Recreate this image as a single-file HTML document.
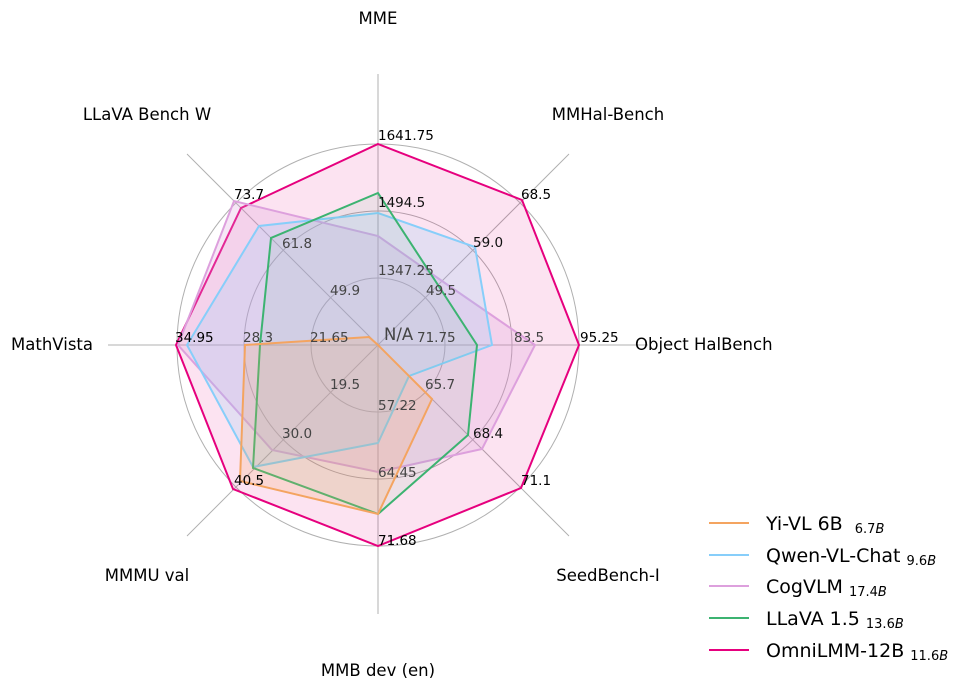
<!DOCTYPE html>
<html><head><style>
body{margin:0;background:#fff;}
svg text{font-family:"DejaVu Sans","Liberation Sans",sans-serif;}
</style></head><body>
<svg width="971" height="690" viewBox="0 0 971 690" xmlns="http://www.w3.org/2000/svg">
<g fill="none" stroke="#b0b0b0" stroke-width="1">
<circle cx="378" cy="345" r="67"/>
<circle cx="378" cy="345" r="134"/>
<circle cx="378" cy="345" r="201"/>
<line x1="378" y1="74" x2="378" y2="614"/>
<line x1="108" y1="345" x2="648" y2="345"/>
<line x1="187" y1="154" x2="569" y2="536"/>
<line x1="569" y1="154" x2="187" y2="536"/>
</g>
<polygon points="378,144 522,200 579,345 521,488 378,546 233,489 176,345 241,208" fill="#e6007e" fill-opacity="0.11" stroke="#e6007e" stroke-width="2"/>
<polygon points="378,236 442,281 535,345 482,449 378,472 272,450 178,345 234,201" fill="#dda0dd" fill-opacity="0.25" stroke="#dda0dd" stroke-width="2"/>
<polygon points="378,213 475,247 492,345 409,376 378,443 253,467 187,345 259,226" fill="#87cefa" fill-opacity="0.2" stroke="#87cefa" stroke-width="2"/>
<polygon points="378,193 438,285 477,345 468,435 378,514 253,468 260,345 271,238" fill="#3cb371" fill-opacity="0.08" stroke="#3cb371" stroke-width="2"/>
<polygon points="378,345 378,345 378,345 432,399 378,514 240,481 245,345 369,337" fill="#f4a460" fill-opacity="0.2" stroke="#f4a460" stroke-width="2"/>

<g font-size="13.5" fill="#444">
<text x="378" y="275">1347.25</text>
<text x="330" y="295">49.9</text>
<text x="426" y="295">49.5</text>
<text x="310" y="342">21.65</text>
<text x="417" y="342">71.75</text>
<text x="330" y="389">19.5</text>
<text x="425" y="389">65.7</text>
<text x="378" y="410">57.22</text>
<text x="378" y="207" fill="#111">1494.5</text>
<text x="282" y="248">61.8</text>
<text x="473" y="247" fill="#111">59.0</text>
<text x="243" y="342">28.3</text>
<text x="514" y="342">83.5</text>
<text x="282" y="438">30.0</text>
<text x="473" y="438" fill="#111">68.4</text>
<text x="378" y="477">64.45</text>
<text x="384" y="340" font-size="16.5">N/A</text>
</g>
<g font-size="13.5" fill="#000">
<text x="378" y="140">1641.75</text>
<text x="234" y="199">73.7</text>
<text x="521" y="199">68.5</text>
<text x="175" y="342">34.95</text>
<text x="580" y="342">95.25</text>
<text x="234" y="485">40.5</text>
<text x="521" y="485">71.1</text>
<text x="378" y="545">71.68</text>
</g>
<g font-size="16.5" fill="#000">
<text x="378" y="24" text-anchor="middle">MME</text>
<text x="608" y="120" text-anchor="middle">MMHal-Bench</text>
<text x="635" y="350">Object HalBench</text>
<text x="608" y="581" text-anchor="middle">SeedBench-I</text>
<text x="378" y="676" text-anchor="middle">MMB dev (en)</text>
<text x="147" y="120" text-anchor="middle">LLaVA Bench W</text>
<text x="147" y="581" text-anchor="middle">MMMU val</text>
<text x="93" y="350" text-anchor="end">MathVista</text>
</g>
<g stroke-width="2">
<line x1="709" y1="523" x2="749" y2="523" stroke="#f4a460"/>
<line x1="709" y1="555" x2="749" y2="555" stroke="#87cefa"/>
<line x1="709" y1="586" x2="749" y2="586" stroke="#dda0dd"/>
<line x1="709" y1="618" x2="749" y2="618" stroke="#3cb371"/>
<line x1="709" y1="650" x2="749" y2="650" stroke="#e6007e"/>
</g>
<g font-size="19" fill="#000">
<text x="766" y="530">Yi-VL 6B <tspan font-size="13" dx="6" dy="3">6.7<tspan font-style="italic">B</tspan></tspan></text>
<text x="766" y="562">Qwen-VL-Chat <tspan font-size="13" dy="3">9.6<tspan font-style="italic">B</tspan></tspan></text>
<text x="766" y="593">CogVLM <tspan font-size="13" dy="3">17.4<tspan font-style="italic">B</tspan></tspan></text>
<text x="766" y="625">LLaVA 1.5 <tspan font-size="13" dy="3">13.6<tspan font-style="italic">B</tspan></tspan></text>
<text x="766" y="657">OmniLMM-12B <tspan font-size="13" dy="3">11.6<tspan font-style="italic">B</tspan></tspan></text>
</g>
</svg>
</body></html>
